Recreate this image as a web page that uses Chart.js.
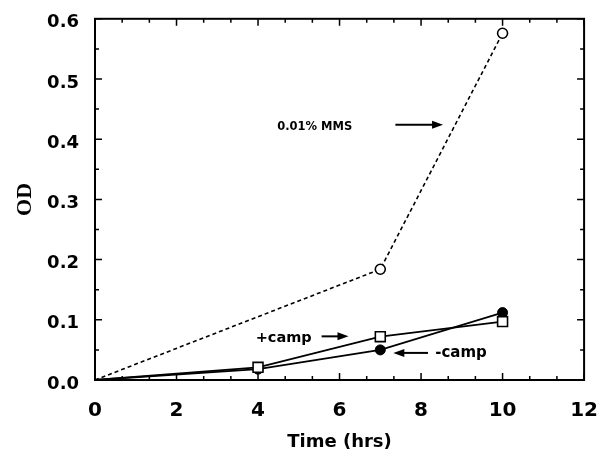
<!DOCTYPE html>
<html>
<head>
<meta charset="utf-8">
<script src="https://cdn.jsdelivr.net/npm/chart.js@4/dist/chart.umd.min.js"></script>
<style>
  html, body { margin: 0; padding: 0; background: #fff; }
  #wrap { width: 609px; height: 454px; }
</style>
</head>
<body>
<div id="wrap"><canvas id="myChart" width="609" height="454"></canvas></div>
<script>
// data
var mmsTime = [0, 7, 10];
var mmsOD = [0, 0.184, 0.576];
var campTime = [0, 4, 7, 10];
var plusCampOD = [0, 0.021, 0.072, 0.097];
var minusCampOD = [0, 0.018, 0.05, 0.112];

// labels on the plot, in data units
var notes = [
    { text: "0.01% MMS", x: 5.39, y: 0.42, size: 11.5 },
    { text: "+camp", x: 4.63, y: 0.069, size: 14.5 },
    { text: "-camp", x: 8.98, y: 0.045, size: 15 }
];
var arrows = [
    { x1: 7.37, x2: 8.54, y: 0.424 },
    { x1: 5.56, x2: 6.22, y: 0.0725 },
    { x1: 8.17, x2: 7.32, y: 0.045 }
];

var sans = '"DejaVu Sans", Verdana, sans-serif';

function pts(xs, ys) {
    return xs.map(function(x, i) { return { x: x, y: ys[i] }; });
}

// frame, inward ticks and notes
const framePlugin = {
    id: 'frame',
    afterDatasetsDraw(chart) {
        const ctx = chart.ctx;
        const a = chart.chartArea;
        const xs = chart.scales.x, ys = chart.scales.y;
        ctx.save();
        ctx.strokeStyle = '#000';
        ctx.lineWidth = 2;
        ctx.strokeRect(a.left, a.top, a.right - a.left, a.bottom - a.top);
        ctx.lineWidth = 1.5;
        ctx.beginPath();
        // x ticks every 2/3, longer at labelled ones
        for (let i = 0; i <= 18; i++) {
            const px = xs.getPixelForValue(i * 2 / 3);
            const len = (i % 3 === 0) ? 7 : 4;
            ctx.moveTo(px, a.bottom); ctx.lineTo(px, a.bottom - len);
            ctx.moveTo(px, a.top); ctx.lineTo(px, a.top + len);
        }
        // y ticks every 0.05
        for (let j = 0; j <= 12; j++) {
            const py = ys.getPixelForValue(j * 0.05);
            const len = (j % 2 === 0) ? 7 : 4;
            ctx.moveTo(a.left, py); ctx.lineTo(a.left + len, py);
            ctx.moveTo(a.right, py); ctx.lineTo(a.right - len, py);
        }
        ctx.stroke();

        ctx.fillStyle = '#000';
        ctx.textAlign = 'center';
        ctx.textBaseline = 'middle';
        notes.forEach(function(n) {
            ctx.font = 'bold ' + n.size + 'px ' + sans;
            ctx.fillText(n.text, xs.getPixelForValue(n.x), ys.getPixelForValue(n.y));
        });
        ctx.lineWidth = 2;
        arrows.forEach(function(r) {
            const x1 = xs.getPixelForValue(r.x1), x2 = xs.getPixelForValue(r.x2);
            const y = ys.getPixelForValue(r.y);
            const d = x2 > x1 ? 1 : -1;
            ctx.beginPath();
            ctx.moveTo(x1, y); ctx.lineTo(x2 - d * 8, y);
            ctx.stroke();
            ctx.beginPath();
            ctx.moveTo(x2, y);
            ctx.lineTo(x2 - d * 11, y - 4);
            ctx.lineTo(x2 - d * 11, y + 4);
            ctx.closePath();
            ctx.fill();
        });
        ctx.restore();
    }
};

const ctx = document.getElementById('myChart').getContext('2d');
const myChart = new Chart(ctx, {
    type: 'line',
    data: {
        datasets: [{
            label: '0.01% MMS',
            data: pts(mmsTime, mmsOD),
            borderColor: '#000',
            borderWidth: 1.6,
            borderDash: [4, 3],
            pointStyle: 'circle',
            pointRadius: [0, 5, 5],
            pointBackgroundColor: '#fff',
            pointBorderColor: '#000',
            pointBorderWidth: 1.6
        }, {
            label: '+camp',
            data: pts(campTime, plusCampOD),
            borderColor: '#000',
            borderWidth: 1.8,
            pointStyle: 'rect',
            pointRadius: [0, 7, 7, 7],
            pointBackgroundColor: '#fff',
            pointBorderColor: '#000',
            pointBorderWidth: 1.6
        }, {
            label: '-camp',
            data: pts(campTime, minusCampOD),
            borderColor: '#000',
            borderWidth: 1.8,
            pointStyle: 'circle',
            pointRadius: [0, 5, 5, 5],
            pointBackgroundColor: '#000',
            pointBorderColor: '#000',
            pointBorderWidth: 1
        }]
    },
    options: {
        responsive: false,
        animation: false,
        layout: { padding: { top: 16, right: 22, left: 0, bottom: 0 } },
        plugins: {
            legend: { display: false },
            tooltip: { enabled: false }
        },
        scales: {
            x: {
                type: 'linear',
                min: 0,
                max: 12,
                afterFit: function(s) { s.height = 74; },
                grid: { display: false },
                border: { display: false },
                ticks: {
                    stepSize: 2,
                    padding: 11,
                    color: '#000',
                    font: { family: sans, size: 20, weight: 'bold' }
                },
                title: {
                    display: true,
                    text: 'Time (hrs)',
                    color: '#000',
                    padding: { top: 0, bottom: 1 },
                    font: { family: sans, size: 18, weight: 'bold' }
                }
            },
            y: {
                min: 0,
                max: 0.6,
                afterFit: function(s) { s.width = 95; },
                grid: { display: false },
                border: { display: false },
                ticks: {
                    stepSize: 0.1,
                    padding: 8,
                    labelOffset: 4,
                    color: '#000',
                    font: { family: sans, size: 18, weight: 'bold' },
                    callback: function(v) { return v.toFixed(1); }
                },
                title: {
                    display: true,
                    text: 'OD',
                    color: '#000',
                    padding: { top: 12, bottom: 0 },
                    font: { family: '"Liberation Serif", "Times New Roman", serif', size: 22, weight: 'bold' }
                }
            }
        }
    },
    plugins: [framePlugin]
});
</script>
</body>
</html>
